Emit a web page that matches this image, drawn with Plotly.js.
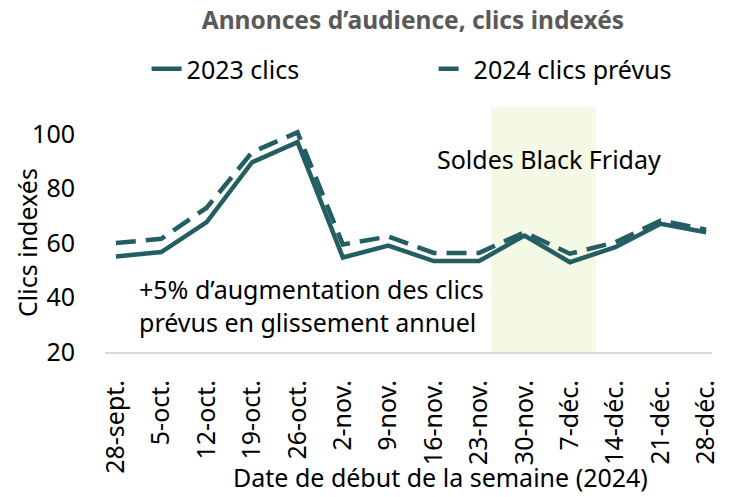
<!DOCTYPE html>
<html>
<head>
<meta charset="utf-8">
<script src="https://cdn.plot.ly/plotly-3.0.1.min.js"></script>
<style>html,body{margin:0;padding:0;background:#fff;}#chart{width:736px;height:497px;}</style>
</head>
<body>
<div id="chart"></div>
<script>
var weeks = ["28-sept.","5-oct.","12-oct.","19-oct.","26-oct.","2-nov.","9-nov.","16-nov.","23-nov.","30-nov.","7-déc.","14-déc.","21-déc.","28-déc."];
var clicks2023 = [55.1, 56.7, 67.7, 89.7, 97.1, 54.7, 59.1, 53.4, 53.4, 62.8, 53.0, 58.5, 67.1, 64.0];
var clicks2024 = [60.0, 61.6, 73.0, 93.4, 100.7, 59.5, 62.4, 56.4, 56.4, 64.0, 56.1, 60.3, 68.3, 64.9];
var seriesNames = ["2023 clics", "2024 clics prévus"];
var yTicks = [20, 40, 60, 80, 100];

var teal = "#235e62";
var font = "Noto Sans, Open Sans, sans-serif";
var fs = 25;
var xIdx = weeks.map(function(_, i){ return i; });

var traces = [
  {x: xIdx, y: clicks2023, name: seriesNames[0], type: "scatter", mode: "lines",
   line: {color: teal, width: 4.5}},
  {x: xIdx, y: clicks2024, name: seriesNames[1], type: "scatter", mode: "lines",
   line: {color: teal, width: 4.5, dash: "20px,10px"}}
];

var layout = {
  width: 736, height: 497,
  margin: {l: 105, r: 24, t: 107, b: 145},
  paper_bgcolor: "#fff", plot_bgcolor: "#fff",
  font: {family: font, color: "#000", size: fs},
  title: {text: "<b>Annonces d’audience, clics indexés</b>", x: 0.561, xanchor: "center",
          y: 0.958, yanchor: "middle", font: {family: font, size: 24.5, color: "#595959"}},
  showlegend: true,
  legend: {orientation: "h", x: 0.0685, xanchor: "left", y: 1.155, yanchor: "middle",
           font: {family: font, size: fs, color: "#000"}, entrywidth: 242, entrywidthmode: "pixels",
           bgcolor: "rgba(0,0,0,0)"},
  xaxis: {
    range: [-0.24, 13.13], tickmode: "array", tickvals: xIdx, ticktext: weeks,
    tickangle: -90, ticks: "outside", ticklen: 16, tickcolor: "rgba(0,0,0,0)",
    showgrid: false, zeroline: false,
    showline: true, linecolor: "#d9d9d9", linewidth: 2,
    tickfont: {family: font, size: fs, color: "#000"}
  },
  yaxis: {
    range: [20, 110], tickmode: "array", tickvals: yTicks,
    ticks: "outside", ticklen: 24, tickcolor: "rgba(0,0,0,0)",
    showgrid: false, zeroline: false, showline: false,
    tickfont: {family: font, size: fs, color: "#000"}
  },
  shapes: [
    {type: "rect", xref: "x", yref: "paper", x0: 8.26, x1: 10.57, y0: 0, y1: 1,
     fillcolor: "#f4f9e5", line: {width: 0}, layer: "below"}
  ],
  annotations: [
    {text: "Date de début de la semaine (2024)", xref: "paper", yref: "paper", x: 0.552, y: -0.588,
     xanchor: "center", yanchor: "bottom", showarrow: false, font: {family: font, size: fs, color: "#000"}},
    {text: "Clics indexés", xref: "paper", yref: "paper", x: -0.1285, y: 0.445, textangle: -90,
     xanchor: "center", yanchor: "middle", showarrow: false, font: {family: font, size: fs, color: "#000"}},
    {text: "Soldes Black Friday", xref: "x", yref: "y", x: 7.02, y: 91, xanchor: "left", yanchor: "middle",
     showarrow: false, font: {family: font, size: fs, color: "#000"}},
    {text: "+5% d’augmentation des clics<br>prévus en glissement annuel", xref: "x", yref: "y",
     x: 0.46, y: 37.1, xanchor: "left", yanchor: "middle", align: "left", showarrow: false,
     font: {family: font, size: fs, color: "#000"}}
  ]
};

Plotly.newPlot("chart", traces, layout, {displayModeBar: false, staticPlot: true});
</script>
</body>
</html>
